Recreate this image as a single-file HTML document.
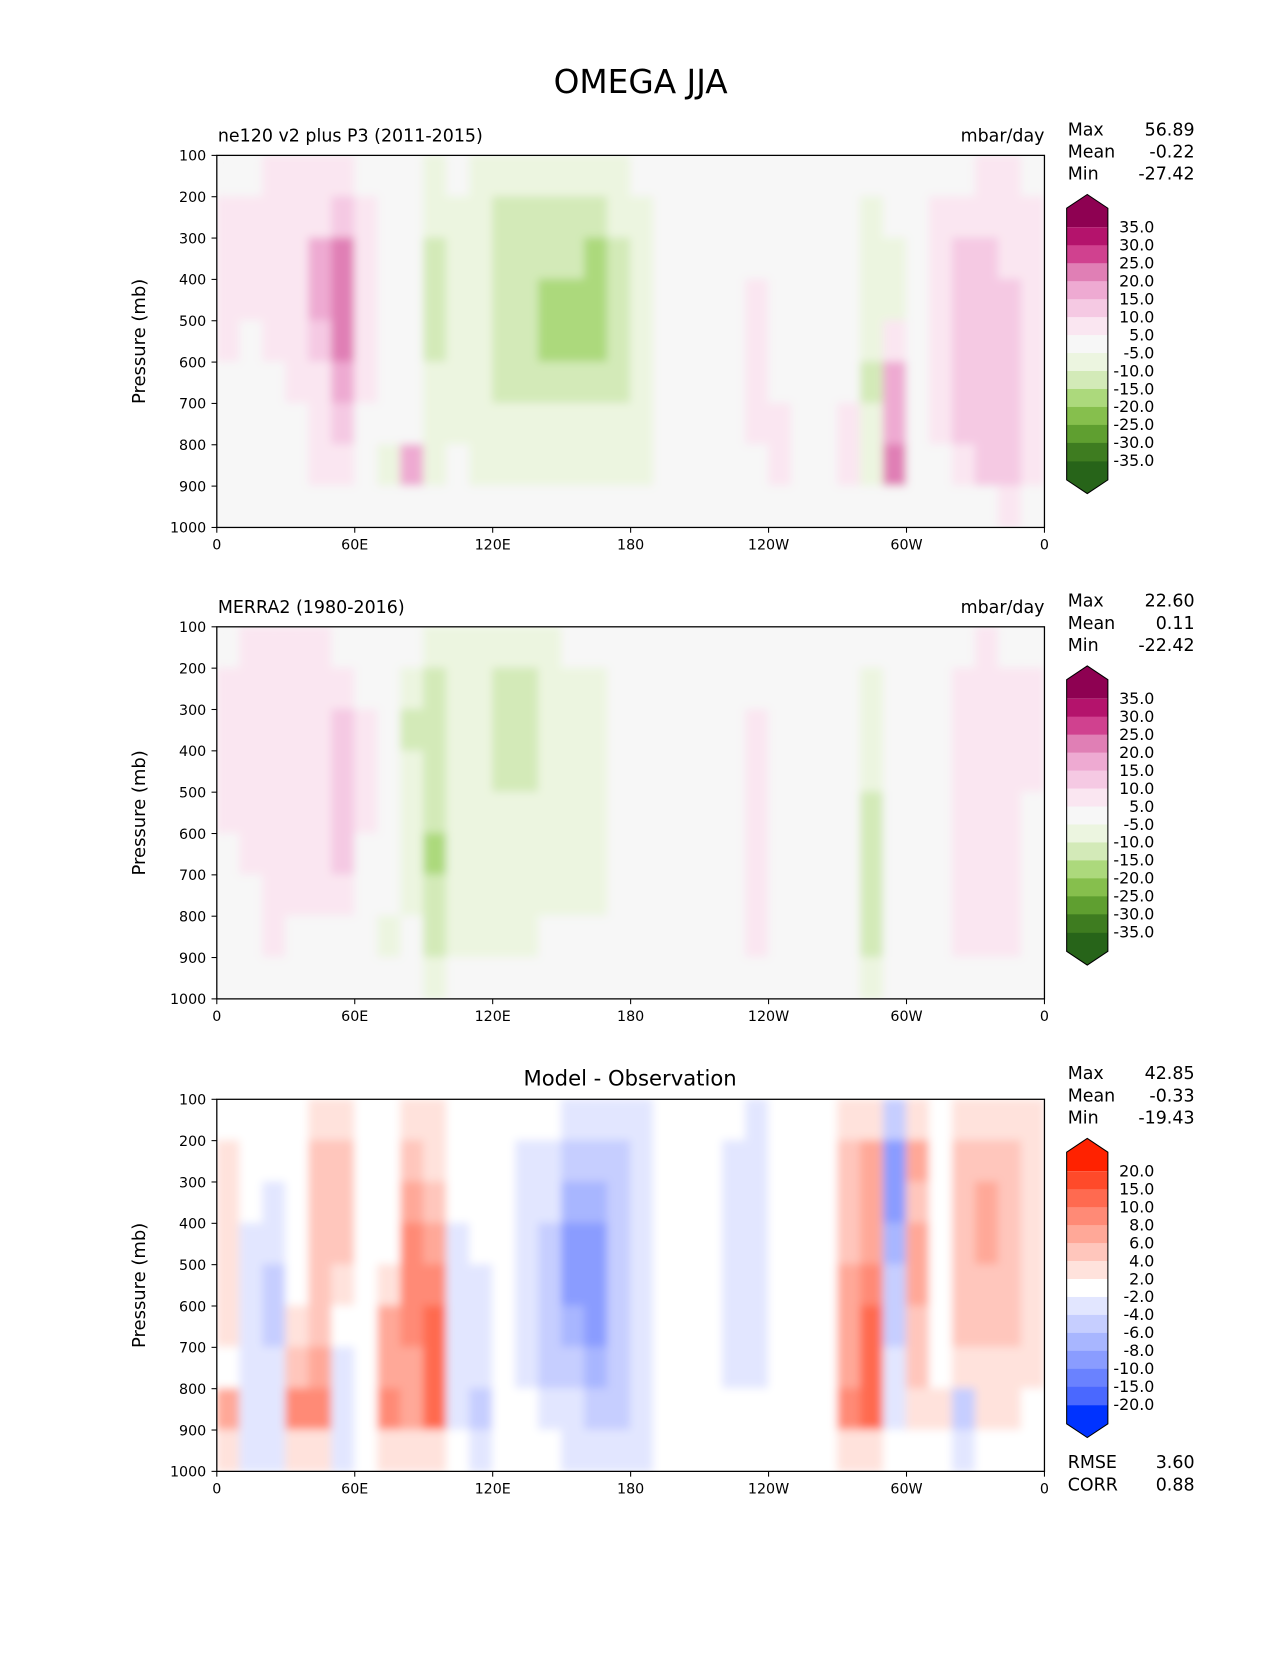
<!DOCTYPE html>
<html><head><meta charset="utf-8">
<style>
html,body{margin:0;padding:0;background:#fff;overflow:hidden;}
svg text{font-family:"DejaVu Sans","Liberation Sans",sans-serif;fill:#000;}
</style></head>
<body>
<svg id="fig" width="1275" height="1650" viewBox="0 0 1206 1561" xmlns="http://www.w3.org/2000/svg">
<rect width="1206" height="1561" fill="#fff"/>
<text x="606" y="88" font-size="31" text-anchor="middle">OMEGA JJA</text>
<defs><filter id="bl" x="0" y="0" width="1" height="1"><feGaussianBlur stdDeviation="4"/></filter></defs>
</svg>
<script>
// ---- data ----
const lonLabels = ["0","60E","120E","180","120W","60W","0"];
const presTicks = [100,200,300,400,500,600,700,800,900,1000];
const levelsMain = [-35,-30,-25,-20,-15,-10,-5,5,10,15,20,25,30,35];
const colorsMain = ["#276419","#3e7c20","#5f9f30","#86bf4d","#acd97c","#d3eab8","#ecf5e0","#f7f7f7","#fae6f1","#f5c9e3","#eeaad2","#e07fb5","#d0418f","#b4136c","#8e0152"];
const levelsDiff = [-20,-15,-10,-8,-6,-4,-2,2,4,6,8,10,15,20];
const colorsDiff = ["#0033ff","#4a68ff","#6a82ff","#8a9cff","#a8b6ff","#c6ceff","#e2e6ff","#ffffff","#ffe2dc","#ffc6bc","#ffa898","#ff8a76","#ff6a50","#ff4a2a","#ff2200"];
const modelGrid = [
[3,3,6,6,6,6,3,0,0,-6,-3,-6,-6,-6,-6,-6,-6,-6,-3,0,0,0,0,0,0,0,0,0,0,0,0,0,3,6,6,3],
[6,8,8,8,8,12,8,0,-3,-8,-6,-8,-12,-12,-12,-12,-12,-10,-6,0,0,0,0,0,0,0,0,0,-6,0,0,6,8,8,8,6],
[6,8,6,8,15,20,8,0,-3,-12,-6,-8,-14,-14,-14,-14,-16,-12,-6,0,0,0,0,3,0,0,0,0,-8,-6,0,6,12,12,8,6],
[6,6,6,8,15,20,8,0,-3,-12,-6,-8,-14,-14,-16,-18,-18,-12,-6,0,0,0,0,6,0,0,0,0,-6,-6,0,6,12,12,10,6],
[6,3,6,8,12,20,6,0,-3,-12,-6,-8,-12,-14,-16,-18,-18,-12,-6,0,0,0,0,6,0,0,0,3,-6,8,0,6,12,12,10,6],
[3,0,0,6,8,15,6,0,-3,-10,-6,-8,-12,-12,-12,-14,-14,-12,-6,0,0,0,0,6,0,0,0,3,-12,15,0,6,12,12,10,6],
[0,0,0,3,6,10,3,0,-3,-8,-6,-6,-10,-10,-10,-10,-10,-10,-6,0,0,0,0,6,6,0,0,6,-10,15,0,6,10,12,10,6],
[3,3,0,-3,6,6,0,-6,15,-10,3,-6,-10,-8,-8,-8,-8,-6,-6,0,0,0,0,0,6,0,0,6,-6,20,0,0,6,10,10,6],
[0,-3,3,-3,0,0,0,-3,0,-3,0,-3,-3,-3,-3,-3,-3,-3,-3,0,0,0,0,0,3,0,0,0,0,3,0,0,0,3,6,0]];
const obsGrid = [
[3,6,6,6,6,3,3,0,-3,-6,-6,-6,-6,-6,-6,-3,-3,-3,0,0,0,0,0,0,0,0,0,0,0,0,0,0,3,6,3,3],
[6,6,8,6,8,8,3,-3,-10,-12,-6,-8,-12,-12,-8,-6,-6,-3,0,0,0,0,0,3,0,0,0,0,-6,0,0,0,8,6,6,6],
[6,6,8,6,8,10,6,-3,-12,-12,-8,-8,-12,-12,-8,-6,-6,-3,0,0,0,0,0,6,0,0,0,0,-8,0,0,3,8,6,6,6],
[6,6,8,6,8,12,6,-3,-10,-14,-8,-8,-12,-12,-8,-6,-6,-3,0,0,0,0,0,6,0,0,0,0,-10,3,0,3,6,6,6,6],
[6,6,8,6,8,12,6,-3,-8,-14,-6,-8,-10,-10,-6,-6,-6,-3,0,0,0,0,0,6,0,0,0,0,-12,3,0,3,6,6,6,3],
[3,6,8,6,6,10,3,-3,-8,-16,-6,-6,-8,-8,-6,-6,-6,-3,0,0,0,0,0,8,0,0,0,0,-14,0,0,3,6,8,6,3],
[3,3,6,6,6,8,0,-3,-6,-14,-6,-6,-6,-6,-6,-6,-6,-3,0,0,0,0,0,8,3,0,0,0,-14,0,0,3,6,8,6,3],
[3,3,6,3,3,3,0,-6,-3,-12,-6,-6,-6,-6,-3,-3,-3,-3,0,0,0,0,0,6,3,0,0,0,-15,0,0,3,6,8,6,3],
[0,0,3,-3,0,0,0,-3,0,-6,-3,-3,0,0,0,0,0,0,0,0,0,0,0,3,0,0,0,0,-6,0,0,0,3,3,3,0]];
const diffGrid = [
[0,0,0,0,3,3,0,0,3,3,0,0,0,-2,0,-3,-3,-3,-3,0,0,0,0,-3,0,0,0,3,3,-6,3,0,3,3,3,3],
[3,0,-2,0,4,5,0,0,5,3,-2,-2,-2,-3,-3,-5,-5,-5,-3,0,0,0,-3,-3,0,0,0,4,6,-10,6,0,5,5,5,3],
[3,0,-3,0,5,5,0,0,6,5,-2,-2,0,-3,-4,-8,-8,-6,-3,0,0,0,-3,-3,0,0,0,5,6,-10,5,0,5,6,5,3],
[3,-3,-4,0,5,4,0,0,8,6,-3,-2,0,-3,-6,-10,-10,-6,-3,0,0,0,-3,-3,0,0,0,5,6,-8,6,0,5,6,5,3],
[3,-3,-5,0,5,3,0,3,8,8,-3,-3,0,-3,-6,-10,-10,-6,-3,0,0,0,-3,-3,0,0,0,6,8,-6,6,0,5,5,5,3],
[3,-3,-5,3,5,0,0,6,8,10,-3,-3,0,-3,-6,-8,-10,-6,-3,0,0,0,-3,-3,0,0,0,6,10,-6,5,0,4,5,4,3],
[0,-3,-4,5,6,-3,0,6,6,10,-3,-3,0,-3,-5,-6,-8,-6,-3,0,0,0,-3,-3,0,0,0,6,10,-4,4,0,3,3,3,3],
[6,-3,-3,8,8,-3,0,8,6,10,-3,-5,0,-2,-3,-4,-5,-5,-3,-2,0,0,-2,0,0,0,0,8,10,-3,3,3,-5,3,3,0],
[3,-3,-3,3,3,-3,0,3,3,3,-2,-3,0,-2,-2,-3,-3,-3,-3,-2,-2,-2,-2,0,0,0,0,3,3,-2,0,0,-3,-2,-2,0]];
const statsModel = ["56.89","-0.22","-27.42"];
const statsObs = ["22.60","0.11","-22.42"];
const statsDiff = ["42.85","-0.33","-19.43"];

const NS="http://www.w3.org/2000/svg";
const svg=document.getElementById('fig');
function mk(tag,attrs,parent){const e=document.createElementNS(NS,tag);for(const k in attrs)e.setAttribute(k,attrs[k]);(parent||svg).appendChild(e);return e;}
const X0=205,X1=988;
function xScale(lon){return X0+(lon/360)*(X1-X0);}
function colorFor(v,levels,colors){let i=0;while(i<levels.length&&v>=levels[i])i++;return colors[i];}

function panel(idx,top,grid,levels,colors,left,right,title,stats){
  const Y0=top,Y1=top+352;
  const yScale=p=>Y0+(p-100)/900*(Y1-Y0);
  const g=mk('g',{});
  
  
  const cid='clip'+idx;
  const cp=mk('clipPath',{id:cid},g);mk('rect',{x:X0,y:Y0,width:X1-X0,height:Y1-Y0},cp);
  const bg=mk('rect',{x:X0,y:Y0,width:X1-X0,height:Y1-Y0,fill:colors[7]},g);
  
  
  const cells=mk('g',{'clip-path':'url(#'+cid+')'},g);
  const inner=mk('g',{filter:'url(#bl)'},cells);
  const nc=grid[0].length,nr=grid.length;
  for(let r=0;r<nr;r++)for(let c=0;c<nc;c++){
    const p0=100+r*900/nr,p1=100+(r+1)*900/nr;
    const l0=c*360/nc,l1=(c+1)*360/nc;
    const rc=mk('rect',{x:xScale(l0)-0.5,y:yScale(p0)-0.5,width:xScale(l1)-xScale(l0)+1,height:yScale(p1)-yScale(p0)+1,fill:colorFor(grid[r][c],levels,colors)},inner);
    
    
  }
  mk('rect',{x:X0,y:Y0,width:X1-X0,height:Y1-Y0,fill:'none',stroke:'#000','stroke-width':1.2},g);
  lonLabels.forEach((l,i)=>{const x=xScale(i*60);
    mk('line',{x1:x,x2:x,y1:Y1,y2:Y1+5,stroke:'#000'},g);
    const t=mk('text',{x:x,y:Y1+21,'font-size':13.5,'text-anchor':'middle'},g);t.textContent=l;
    
    });
  presTicks.forEach(p=>{const y=yScale(p);
    mk('line',{x1:X0-5,x2:X0,y1:y,y2:y,stroke:'#000'},g);
    const t=mk('text',{x:X0-10,y:y+5,'font-size':13.5,'text-anchor':'end'},g);t.textContent=p;
    
    });
  const yl=mk('text',{x:0,y:0,'font-size':17,'text-anchor':'middle',transform:`translate(137,${(Y0+Y1)/2}) rotate(-90)`},g);yl.textContent='Pressure (mb)';
  
  
  if(left){const t=mk('text',{x:206,y:Y0-13,'font-size':16.5},g);t.textContent=left;
    
    }
  if(right){const t=mk('text',{x:988,y:Y0-13,'font-size':16.5,'text-anchor':'end'},g);t.textContent=right;
    
    }
  if(title){const t=mk('text',{x:596,y:Y0-13,'font-size':20,'text-anchor':'middle'},g);t.textContent=title;
    
    }
  ['Max','Mean','Min'].forEach((n,i)=>{
    const a=mk('text',{x:1010,y:Y0-19+i*21,'font-size':16.5},g);a.textContent=n;
    
    
    const b=mk('text',{x:1130,y:Y0-19+i*21,'font-size':16.5,'text-anchor':'end'},g);b.textContent=stats[i];
    
    });
  // colorbar
  const cb=mk('g',{},g);
  
  
  const cx0=1009,cx1=1048,ct=Y0+68,h=17.0,nb=colors.length-2;
  const cbot=ct+nb*h, mx=(cx0+cx1)/2;
  mk('polygon',{points:`${cx0},${ct} ${cx0},${ct-18} ${mx},${ct-31} ${cx1},${ct-18} ${cx1},${ct}`,fill:colors[colors.length-1]},cb);
  mk('polygon',{points:`${cx0},${cbot} ${cx0},${cbot+18} ${mx},${cbot+31} ${cx1},${cbot+18} ${cx1},${cbot}`,fill:colors[0]},cb);
  for(let i=0;i<nb;i++){mk('rect',{x:cx0,y:ct+i*h,width:cx1-cx0,height:h+0.5,fill:colors[colors.length-2-i]},cb);}
  mk('polygon',{points:`${cx0},${ct-18} ${mx},${ct-31} ${cx1},${ct-18} ${cx1},${cbot+18} ${mx},${cbot+31} ${cx0},${cbot+18}`,fill:'none',stroke:'#000','stroke-width':1},cb);
  for(let i=0;i<levels.length;i++){
    const yy=ct+(nb-i)*h;
    const t=mk('text',{x:1092,y:yy+5,'font-size':15,'text-anchor':'end'},cb);t.textContent=levels[i].toFixed(1);
    
    }
}
panel(1,147,modelGrid,levelsMain,colorsMain,'ne120 v2 plus P3 (2011-2015)','mbar/day',null,statsModel);
panel(2,593,obsGrid,levelsMain,colorsMain,'MERRA2 (1980-2016)','mbar/day',null,statsObs);
panel(3,1040,diffGrid,levelsDiff,colorsDiff,null,null,'Model - Observation',statsDiff);
[['RMSE','3.60',1389],['CORR','0.88',1410]].forEach(r=>{
  const a=mk('text',{x:1010,y:r[2],'font-size':16.5});a.textContent=r[0];
  
  
  const b=mk('text',{x:1130,y:r[2],'font-size':16.5,'text-anchor':'end'});b.textContent=r[1];
  
  });
</script>
</body></html>
